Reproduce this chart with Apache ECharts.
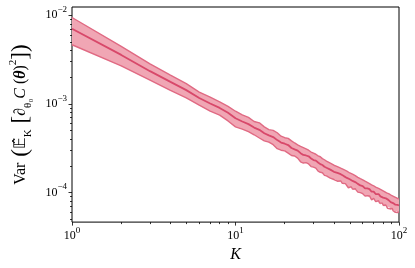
<!DOCTYPE html>
<html><head><meta charset="utf-8">
<script src="https://cdn.jsdelivr.net/npm/echarts@6/dist/echarts.min.js"></script>
<style>html,body{margin:0;padding:0;background:#fff}#c{width:415px;height:268px}</style>
</head><body><div id="c"></div>
<script>
// K values (x)
const K = [1,2,3,4,5,6,7,8,9,10,
  11,12,13,14,15,16,17,18,19,20,
  21,22,23,24,25,26,27,28,29,30,
  31,32,33,34,35,36,37,38,39,40,
  41,42,43,44,45,46,47,48,49,50,
  51,52,53,54,55,56,57,58,59,60,
  61,62,63,64,65,66,67,68,69,70,
  71,72,73,74,75,76,77,78,79,80,
  81,82,83,84,85,86,87,88,89,90,
  91,92,93,94,95,96,97,98,99,100];

// mean variance
const meanVar = [7.06e-3,3.57e-3,2.34e-3,1.77e-3,1.43e-3,1.165e-3,1.01e-3,0.900e-3,0.792e-3,0.688e-3,
  0.632e-3,0.591e-3,0.540e-3,0.509e-3,0.466e-3,0.441e-3,0.422e-3,0.390e-3,0.366e-3,0.355e-3,
  0.343e-3,0.318e-3,0.307e-3,0.297e-3,0.278e-3,0.265e-3,0.2615e-3,0.256e-3,0.242e-3,0.232e-3,
  0.229e-3,0.218e-3,0.209e-3,0.204e-3,0.195e-3,0.190e-3,0.183e-3,0.181e-3,0.175e-3,0.171e-3,
  0.169e-3,0.166e-3,0.160e-3,0.161e-3,0.155e-3,0.153e-3,0.152e-3,0.146e-3,0.141e-3,0.141e-3,
  0.140e-3,0.135e-3,0.131e-3,0.131e-3,0.131e-3,0.125e-3,0.121e-3,0.120e-3,0.121e-3,0.118e-3,
  0.114e-3,0.111e-3,0.111e-3,0.111e-3,0.108e-3,0.109e-3,0.105e-3,0.102e-3,0.102e-3,0.102e-3,
  0.0994e-3,0.0961e-3,0.0957e-3,0.0959e-3,0.0960e-3,0.0929e-3,0.0903e-3,0.0900e-3,0.0903e-3,0.0874e-3,
  0.0850e-3,0.0857e-3,0.0860e-3,0.0840e-3,0.0819e-3,0.0825e-3,0.0823e-3,0.0798e-3,0.0777e-3,0.0784e-3,
  0.0784e-3,0.0759e-3,0.0763e-3,0.0747e-3,0.0728e-3,0.0735e-3,0.0739e-3,0.0724e-3,0.0706e-3,0.0713e-3];

// upper edge of band
const upperVar = [9.44e-3,4.46e-3,2.83e-3,2.11e-3,1.69e-3,1.36e-3,1.19e-3,1.053e-3,0.935e-3,0.826e-3,
  0.752e-3,0.703e-3,0.632e-3,0.611e-3,0.550e-3,0.512e-3,0.502e-3,0.472e-3,0.432e-3,0.415e-3,
  0.408e-3,0.382e-3,0.362e-3,0.345e-3,0.331e-3,0.321e-3,0.311e-3,0.300e-3,0.286e-3,0.278e-3,
  0.270e-3,0.259e-3,0.253e-3,0.241e-3,0.234e-3,0.226e-3,0.221e-3,0.214e-3,0.210e-3,0.203e-3,
  0.198e-3,0.196e-3,0.192e-3,0.188e-3,0.184e-3,0.181e-3,0.176e-3,0.174e-3,0.169e-3,0.166e-3,
  0.164e-3,0.161e-3,0.157e-3,0.155e-3,0.152e-3,0.148e-3,0.145e-3,0.143e-3,0.142e-3,0.139e-3,
  0.137e-3,0.134e-3,0.132e-3,0.130e-3,0.127e-3,0.126e-3,0.124e-3,0.122e-3,0.121e-3,0.119e-3,
  0.117e-3,0.115e-3,0.114e-3,0.112e-3,0.111e-3,0.110e-3,0.108e-3,0.107e-3,0.106e-3,0.104e-3,
  0.103e-3,0.102e-3,0.101e-3,0.0991e-3,0.0983e-3,0.0974e-3,0.0963e-3,0.0950e-3,0.0932e-3,0.0925e-3,
  0.0917e-3,0.0903e-3,0.0900e-3,0.0896e-3,0.0881e-3,0.0875e-3,0.0865e-3,0.0854e-3,0.0847e-3,0.0848e-3];

// lower edge of band
const lowerVar = [4.65e-3,2.68e-3,1.85e-3,1.42e-3,1.17e-3,0.967e-3,0.828e-3,0.747e-3,0.642e-3,0.550e-3,
  0.518e-3,0.485e-3,0.448e-3,0.412e-3,0.382e-3,0.370e-3,0.346e-3,0.312e-3,0.300e-3,0.295e-3,
  0.278e-3,0.261e-3,0.258e-3,0.244e-3,0.222e-3,0.215e-3,0.217e-3,0.210e-3,0.196e-3,0.193e-3,
  0.188e-3,0.174e-3,0.169e-3,0.167e-3,0.156e-3,0.154e-3,0.150e-3,0.145e-3,0.142e-3,0.140e-3,
  0.140e-3,0.134e-3,0.131e-3,0.135e-3,0.127e-3,0.124e-3,0.126e-3,0.120e-3,0.113e-3,0.116e-3,
  0.116e-3,0.109e-3,0.107e-3,0.110e-3,0.109e-3,0.101e-3,0.0992e-3,0.0996e-3,0.0980e-3,0.0968e-3,
  0.0958e-3,0.0910e-3,0.0899e-3,0.0921e-3,0.0886e-3,0.0916e-3,0.0872e-3,0.0826e-3,0.0836e-3,0.0857e-3,
  0.0825e-3,0.0788e-3,0.0775e-3,0.0796e-3,0.0806e-3,0.0762e-3,0.0731e-3,0.0747e-3,0.0759e-3,0.0717e-3,
  0.0689e-3,0.0711e-3,0.0722e-3,0.0689e-3,0.0663e-3,0.0685e-3,0.0691e-3,0.0654e-3,0.0629e-3,0.0651e-3,
  0.0659e-3,0.0622e-3,0.0633e-3,0.0605e-3,0.0597e-3,0.0617e-3,0.0613e-3,0.0594e-3,0.0593e-3,0.0606e-3];

// ticks
const xMajorTicks = [1, 10, 100];
const xMinorTicks = [2,3,4,5,6,7,8,9,20,30,40,50,60,70,80,90];
const yMajorTicks = [1e-4, 1e-3, 1e-2];
const yMinorTicks = [5e-5,6e-5,7e-5,8e-5,9e-5,
  2e-4,3e-4,4e-4,5e-4,6e-4,7e-4,8e-4,9e-4,
  2e-3,3e-3,4e-3,5e-3,6e-3,7e-3,8e-3,9e-3];

const FONT = 'Liberation Serif';
const LINE_C = '#d8486a';
const EDGE_C = '#e06a83';
const FILL_C = '#f0a6b4';

function powLabel(v) {
  const e = Math.round(Math.log10(v));
  if (Math.abs(Math.log10(v) - e) > 1e-6) return '';
  return '{b|10}{s|' + (e < 0 ? '\u2212' + (-e) : String(e)) + '}';
}
const labelRich = {
  b: {fontFamily: FONT, fontSize: 12, color: '#000', lineHeight: 20},
  s: {fontFamily: FONT, fontSize: 9, color: '#000', lineHeight: 11, verticalAlign: 'top'}
};
const tickStyle = {color: '#000', width: 0.8};

const chart = echarts.init(document.getElementById('c'), null, {renderer: 'canvas'});
const pairs = (arr) => K.map((k, i) => [k, arr[i]]);

chart.setOption({
  animation: false,
  backgroundColor: '#fff',
  grid: {left: 72, right: 16, top: 7, bottom: 45, show: true, borderColor: '#000', borderWidth: 1, containLabel: false},
  xAxis: [
    {type: 'log', logBase: 10, min: 1, max: 100, position: 'bottom',
     name: 'K', nameLocation: 'middle', nameGap: 18,
     nameTextStyle: {fontFamily: FONT, fontSize: 16, fontStyle: 'italic', color: '#000'},
     axisLine: {show: false}, splitLine: {show: false},
     axisTick: {show: true, customValues: xMajorTicks, length: 3.5, lineStyle: tickStyle},
     axisLabel: {customValues: xMajorTicks, formatter: powLabel, rich: labelRich, margin: 4, color: '#000'}},
    {type: 'log', logBase: 10, min: 1, max: 100, position: 'bottom',
     axisLine: {show: false}, splitLine: {show: false},
     axisTick: {show: true, customValues: xMinorTicks, length: 2, lineStyle: tickStyle},
     axisLabel: {show: false}}
  ],
  yAxis: [
    {type: 'log', logBase: 10, min: 4.63e-5, max: 1.24e-2, position: 'left',
     name: '{r|Var}{p| (}{r|\uD835\uDD3C\u0302}{sb|K}{p| [}{r|\u2202}{sb|\u03B8\u2080}{it|C}{r| (}{bt|\u03B8}{r|)}{sp|2}{p|])}',
     nameLocation: 'middle', nameGap: 38, nameRotate: 90,
     nameTextStyle: {
       color: '#000', fontFamily: FONT, fontSize: 16,
       rich: {
         r: {fontFamily: FONT, fontSize: 16, lineHeight: 26, color: '#000'},
         p: {fontFamily: FONT, fontSize: 23, lineHeight: 26, color: '#000'},
         sb: {fontFamily: FONT, fontSize: 11, lineHeight: 16, verticalAlign: 'bottom', color: '#000'},
         sp: {fontFamily: FONT, fontSize: 11, lineHeight: 16, verticalAlign: 'top', color: '#000'},
         it: {fontFamily: FONT, fontSize: 16, lineHeight: 26, fontStyle: 'italic', color: '#000'},
         bt: {fontFamily: FONT, fontSize: 16, lineHeight: 26, fontStyle: 'italic', fontWeight: 'bold', color: '#000'}
       }
     },
     axisLine: {show: false}, splitLine: {show: false},
     axisTick: {show: true, customValues: yMajorTicks, length: 3.5, lineStyle: tickStyle},
     axisLabel: {customValues: yMajorTicks, formatter: powLabel, rich: labelRich, margin: 5, color: '#000'}},
    {type: 'log', logBase: 10, min: 4.63e-5, max: 1.24e-2, position: 'left',
     axisLine: {show: false}, splitLine: {show: false},
     axisTick: {show: true, customValues: yMinorTicks, length: 2, lineStyle: tickStyle},
     axisLabel: {show: false}}
  ],
  series: [
    {type: 'custom', xAxisIndex: 0, yAxisIndex: 0, silent: true, z: 1,
     data: pairs(meanVar), encode: {x: 0, y: 1},
     renderItem: function (params, api) {
       if (params.dataIndex !== 0) return null;
       const pts = [];
       for (let i = 0; i < K.length; i++) pts.push(api.coord([K[i], upperVar[i]]));
       for (let i = K.length - 1; i >= 0; i--) pts.push(api.coord([K[i], lowerVar[i]]));
       return {type: 'polygon', shape: {points: pts}, style: {fill: FILL_C}};
     }},
    {type: 'line', xAxisIndex: 0, yAxisIndex: 0, data: pairs(upperVar), showSymbol: false, silent: true, z: 2,
     lineStyle: {color: EDGE_C, width: 1.4}},
    {type: 'line', xAxisIndex: 0, yAxisIndex: 0, data: pairs(lowerVar), showSymbol: false, silent: true, z: 2,
     lineStyle: {color: EDGE_C, width: 1.4}},
    {type: 'line', xAxisIndex: 0, yAxisIndex: 0, data: pairs(meanVar), showSymbol: false, silent: true, z: 3,
     lineStyle: {color: LINE_C, width: 1.8}}
  ]
});
</script>
</body></html>
